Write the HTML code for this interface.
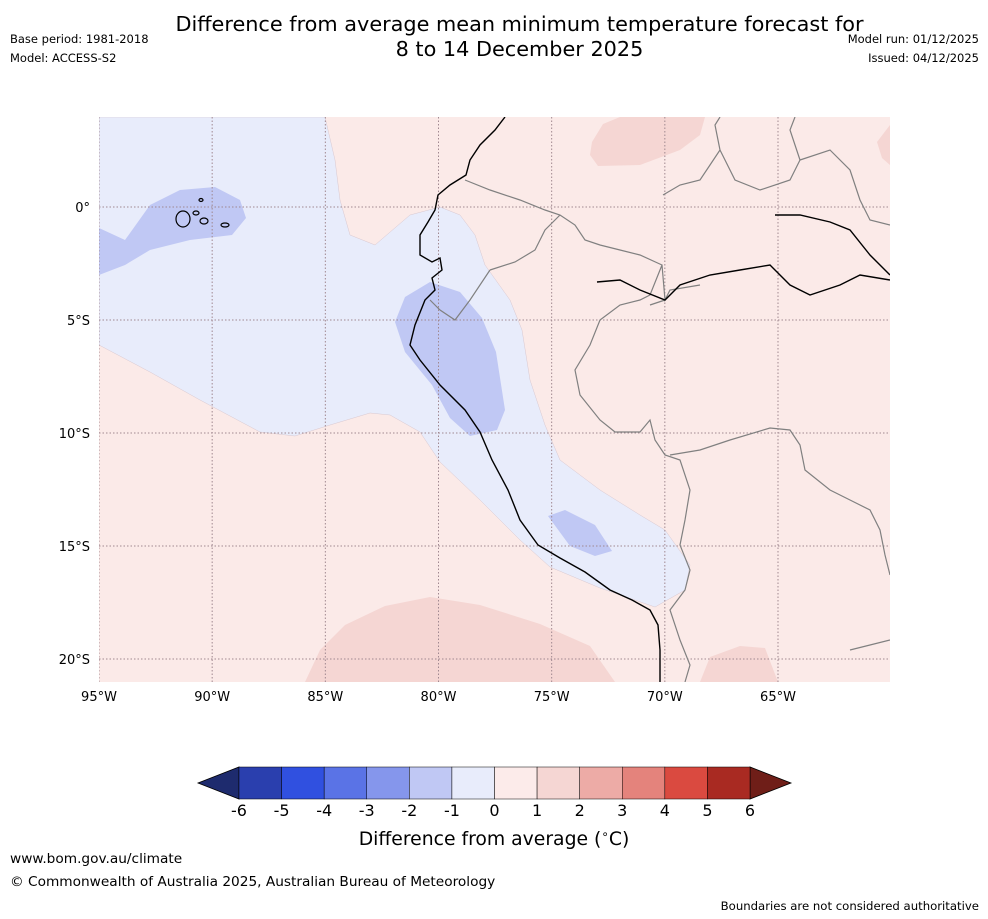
<!DOCTYPE html>
<html><head><meta charset="utf-8"><style>
body{margin:0;background:#fff;width:988px;height:919px;overflow:hidden;font-family:"DejaVu Sans","Liberation Sans",sans-serif;}
.t{position:absolute;color:#000;white-space:nowrap}
svg text{font-family:"DejaVu Sans","Liberation Sans",sans-serif}
</style></head><body>
<div class="t" style="left:0;width:1039px;text-align:center;top:12px;font-size:20.8px;line-height:25px">Difference from average mean minimum temperature forecast for<br>8 to 14 December 2025</div>
<div class="t" style="left:10px;top:32px;font-size:11.5px">Base period: 1981-2018</div>
<div class="t" style="left:10px;top:51px;font-size:11.5px">Model: ACCESS-S2</div>
<div class="t" style="right:9px;top:32px;font-size:11.5px">Model run: 01/12/2025</div>
<div class="t" style="right:9px;top:51px;font-size:11.5px">Issued: 04/12/2025</div>
<svg width="988" height="919" style="position:absolute;left:0;top:0">
<defs><clipPath id="c"><rect x="99" y="117" width="791" height="565"/></clipPath></defs>
<g clip-path="url(#c)">
<rect x="99" y="117" width="791" height="565" fill="#fbeae8"/>
<path fill="#e8ecfb" stroke="#d8c8d0" stroke-width="0.5" d="M99,117 L325,117 L335,160 L340,200 L350,235 L375,245 L410,215 L440,207 L460,215 L475,235 L485,265 L510,300 L522,330 L530,380 L545,425 L560,460 L600,490 L640,515 L665,530 L690,565 L685,590 L655,607 L600,588 L550,567 L520,540 L480,500 L440,462 L420,432 L390,415 L370,413 L330,425 L295,436 L260,432 L200,400 L150,372 L99,345 Z"/>
<path fill="#c0c8f4" d="M99,228 L125,240 L150,205 L180,190 L215,187 L240,200 L246,218 L232,235 L190,240 L150,250 L125,265 L99,275 Z"/>
<path fill="#c0c8f4" d="M395,322 L405,297 L430,282 L460,292 L482,318 L496,352 L505,410 L497,430 L470,436 L450,418 L432,385 L405,352 Z"/>
<path fill="#c0c8f4" d="M548,516 L565,510 L595,525 L612,551 L595,556 L570,546 Z"/>
<path fill="#f5d6d3" d="M592,142 L603,124 L620,117 L705,117 L700,135 L680,150 L640,165 L598,166 L590,155 Z"/>
<path fill="#f5d6d3" d="M305,682 L320,650 L345,625 L385,606 L430,597 L480,605 L540,624 L590,646 L615,682 Z"/>
<path fill="#f5d6d3" d="M700,682 L710,657 L740,646 L765,648 L778,682 Z"/>
<path fill="#f5d6d3" d="M877,142 L890,125 L890,165 L882,158 Z"/>
<g id="grid" stroke="#a08890" stroke-width="1" stroke-dasharray="1.5,2"></g>
<path fill="none" stroke="#808080" stroke-width="1.2" d="M465,180 L490,190 L520,200 L545,210 L560,215 L575,225 L585,240 L600,245 L620,250 L640,255 L662,265 L650,295 L640,300 L620,305 L600,320 L590,345 L575,370 L580,395 L600,420 L615,432 L640,432 L650,420 L655,440 L665,455 L680,460 L690,490 L685,520 L680,545 L690,570 L685,590 L670,610 L680,640 L690,665 L685,682 M662,265 L665,300 L670,290 L700,285 M665,300 L650,305 M490,270 L515,262 L535,250 L545,230 L560,215 M490,270 L470,300 L455,320 L440,310 L430,300 M670,455 L700,450 L730,440 L770,428 L790,430 L800,445 L805,470 L830,490 L850,500 L870,510 L880,530 L885,555 L890,575 M850,650 L870,645 L890,640 M663,195 L680,185 L700,180 L710,165 L720,150 L715,125 L720,117 M720,150 L735,180 L760,190 L790,180 L800,160 L790,130 L795,117 M800,160 L830,150 L850,170 L860,200 L870,220 L890,225"/>
<path fill="none" stroke="#000" stroke-width="1.4" d="M505,117 L495,130 L480,145 L470,160 L466,175 L450,185 L438,195 L435,210 L428,222 L420,235 L420,255 L432,262 L440,258 L442,270 L432,278 L435,290 L425,300 L415,325 L410,345 L420,360 L440,385 L465,410 L480,432 L492,460 L508,490 L520,520 L538,545 L560,558 L585,572 L610,590 L632,600 L650,610 L658,625 L660,650 L660,682 M597,282 L620,280 L640,290 L665,300 L680,285 L710,275 L740,270 L770,265 L790,285 L810,295 L840,285 L860,275 L890,280 M775,215 L800,215 L830,222 L850,230 L870,255 L890,275"/>
<g fill="none" stroke="#000" stroke-width="1.2"><ellipse cx="183" cy="219" rx="7" ry="8"/><ellipse cx="196" cy="213" rx="3" ry="2"/><ellipse cx="204" cy="221" rx="4" ry="3"/><ellipse cx="225" cy="225" rx="4" ry="2"/><ellipse cx="201" cy="200" rx="2" ry="1.5"/></g>
</g>
<g id="xlabels" font-size="13" text-anchor="middle"></g>
<g id="ylabels" font-size="13" text-anchor="end"></g>
<g id="cbar"></g>
<text x="494" y="845" font-size="18.8" text-anchor="middle">Difference from average (<tspan font-size="12" dy="-7">∘</tspan><tspan dy="7">C)</tspan></text>
</svg>
<div class="t" style="left:10px;top:851px;font-size:13.7px">www.bom.gov.au/climate</div>
<div class="t" style="left:10px;top:874px;font-size:13.7px">© Commonwealth of Australia 2025, Australian Bureau of Meteorology</div>
<div class="t" style="right:9px;top:899px;font-size:11.7px">Boundaries are not considered authoritative</div>
<script>
const lonTicks=[-95,-90,-85,-80,-75,-70,-65];
const latTicks=[0,-5,-10,-15,-20];
const levels=[-6,-5,-4,-3,-2,-1,0,1,2,3,4,5,6];
const levelColors=["#2a3fae","#3050e0","#5a73e6","#8596ec","#c0c8f4","#e8ecfb","#fcebea","#f5d6d3","#edaba6","#e4837c","#da4a40","#a92a22"];
const underColor="#1e2b6e", overColor="#6f1e18";
const NS="http://www.w3.org/2000/svg";
const X=lon=>99+(lon+95)*(679/30);
const Y=lat=>207-lat*22.6;
const CX=v=>239+(v+6)*(511/12);
function mk(t,a,p){const e=document.createElementNS(NS,t);for(const k in a)e.setAttribute(k,a[k]);p.appendChild(e);return e;}
const grid=document.getElementById('grid'),xl=document.getElementById('xlabels'),yl=document.getElementById('ylabels'),cb=document.getElementById('cbar');
lonTicks.forEach(l=>{
 const ln=mk('line',{x1:X(l),x2:X(l),y1:117,y2:682},grid);
 
 
 const t=mk('text',{x:X(l),y:701},xl);t.textContent=Math.abs(l)+'°W';
 
 
});
latTicks.forEach(l=>{
 const ln=mk('line',{x1:99,x2:890,y1:Y(l),y2:Y(l)},grid);
 
 
 const t=mk('text',{x:90,y:Y(l)+5},yl);t.textContent=l===0?'0°':Math.abs(l)+'°S';
 
 
});
const y0=767,y1=799;
const lt=mk('polygon',{points:`${CX(-6)},${y0} ${CX(-6)},${y1} 198,${(y0+y1)/2}`,fill:underColor,stroke:'#000','stroke-width':0.8},cb);


const rt=mk('polygon',{points:`${CX(6)},${y0} ${CX(6)},${y1} 791,${(y0+y1)/2}`,fill:overColor,stroke:'#000','stroke-width':0.8},cb);


for(let i=0;i<levelColors.length;i++){
 const r=mk('rect',{x:CX(levels[i]),y:y0,width:CX(levels[i+1])-CX(levels[i]),height:y1-y0,fill:levelColors[i],stroke:'#000','stroke-width':0.5},cb);
 
 
}
levels.forEach(v=>{
 const t=mk('text',{x:CX(v),y:816,'font-size':16,'text-anchor':'middle'},cb);t.textContent=v;
 
 
});
</script>
</body></html>
